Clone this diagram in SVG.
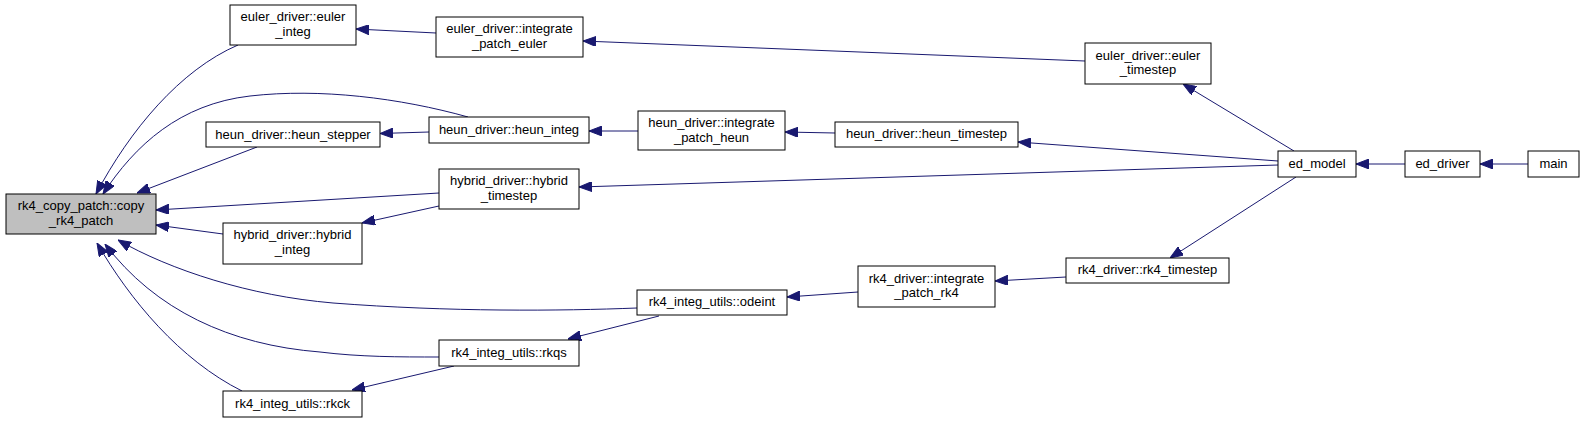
<svg xmlns="http://www.w3.org/2000/svg" width="1584" height="423" viewBox="0 0 1584 423">
<style>
  .node rect { fill: #ffffff; stroke: #000000; stroke-width: 1; }
  .node.cur rect { fill: #bfbfbf; }
  .node text { font-family: "Liberation Sans", Arial, sans-serif; font-size: 13px; fill: #000000; text-anchor: middle; }
  .edges path { fill: none; stroke: #191970; stroke-width: 1; marker-end: url(#arr); }
</style>
<defs>
  <marker id="arr" markerUnits="userSpaceOnUse" markerWidth="13" markerHeight="10" viewBox="0 0 13 10" refX="13" refY="5" orient="auto">
    <path d="M0,0 L13,5 L0,10 z" fill="#191970" stroke="#191970" stroke-width="1"/>
  </marker>
</defs>
<rect width="1584" height="423" fill="#ffffff"/>
<g class="edges" id="edges">
  <path d="M238,45 C180,70 130,130 96,194"/>
  <path d="M468,117 C400,98 320,88 250,96 C180,104 135,145 103,194"/>
  <path d="M257,147 L137,193"/>
  <path d="M439,193 L156,210"/>
  <path d="M223,234 L156,225"/>
  <path d="M637,308 C560,311 450,312 333,303 C250,296 170,270 118,240"/>
  <path d="M439,357 C400,357 360,357 320,352 C230,345 155,310 105,244"/>
  <path d="M242,391 C180,360 130,300 97,243"/>
  <path d="M436,33 L356,29"/>
  <path d="M1085,61 L583,41"/>
  <path d="M429,132 L380,133.5"/>
  <path d="M638,131 L589,131"/>
  <path d="M835,133 L785,132"/>
  <path d="M1294,151 L1183,84"/>
  <path d="M1278,161 L1018,142"/>
  <path d="M1278,165 L579,187"/>
  <path d="M1296,177 L1170,258"/>
  <path d="M1405,164 L1356,164"/>
  <path d="M1528,164 L1480,164"/>
  <path d="M858,292 L787,297"/>
  <path d="M1066,277 L995,281"/>
  <path d="M659,316 L568,339"/>
  <path d="M454,366 L352,390"/>
  <path d="M439,206 L362,223"/>
</g>
<g class="node cur" id="copy_rk4_patch"><rect x="6" y="194" width="150" height="40"/><text x="81" y="210">rk4_copy_patch::copy</text><text x="81" y="225">_rk4_patch</text></g>
<g class="node" id="euler_integ"><rect x="230" y="5" width="126" height="40"/><text x="293" y="21">euler_driver::euler</text><text x="293" y="36">_integ</text></g>
<g class="node" id="heun_stepper"><rect x="206" y="122" width="174" height="25"/><text x="293" y="138.5">heun_driver::heun_stepper</text></g>
<g class="node" id="hybrid_integ"><rect x="223" y="223" width="139" height="41"/><text x="292.5" y="239">hybrid_driver::hybrid</text><text x="292.5" y="254">_integ</text></g>
<g class="node" id="rkck"><rect x="223" y="391" width="139" height="26"/><text x="292.5" y="407.5">rk4_integ_utils::rkck</text></g>
<g class="node" id="integrate_patch_euler"><rect x="436" y="17" width="147" height="40"/><text x="509.5" y="33">euler_driver::integrate</text><text x="509.5" y="48">_patch_euler</text></g>
<g class="node" id="heun_integ"><rect x="429" y="117" width="160" height="26"/><text x="509" y="134">heun_driver::heun_integ</text></g>
<g class="node" id="hybrid_timestep"><rect x="439" y="169" width="140" height="40"/><text x="509" y="185">hybrid_driver::hybrid</text><text x="509" y="200">_timestep</text></g>
<g class="node" id="rkqs"><rect x="439" y="340" width="140" height="26"/><text x="509" y="357">rk4_integ_utils::rkqs</text></g>
<g class="node" id="integrate_patch_heun"><rect x="638" y="111" width="147" height="39"/><text x="711.5" y="127">heun_driver::integrate</text><text x="711.5" y="141.5">_patch_heun</text></g>
<g class="node" id="odeint"><rect x="637" y="290" width="150" height="25"/><text x="712" y="306">rk4_integ_utils::odeint</text></g>
<g class="node" id="heun_timestep"><rect x="835" y="122" width="183" height="25"/><text x="926.5" y="138">heun_driver::heun_timestep</text></g>
<g class="node" id="integrate_patch_rk4"><rect x="858" y="266" width="137" height="41"/><text x="926.5" y="282.5">rk4_driver::integrate</text><text x="926.5" y="297">_patch_rk4</text></g>
<g class="node" id="euler_timestep"><rect x="1085" y="43" width="126" height="41"/><text x="1148" y="59.5">euler_driver::euler</text><text x="1148" y="74">_timestep</text></g>
<g class="node" id="rk4_timestep"><rect x="1066" y="258" width="163" height="25"/><text x="1147.5" y="274">rk4_driver::rk4_timestep</text></g>
<g class="node" id="ed_model"><rect x="1278" y="151" width="78" height="26"/><text x="1317" y="167.5">ed_model</text></g>
<g class="node" id="ed_driver"><rect x="1405" y="151" width="75" height="26"/><text x="1442.5" y="167.5">ed_driver</text></g>
<g class="node" id="main"><rect x="1528" y="151" width="51" height="26"/><text x="1553.5" y="167.5">main</text></g>
</svg>
